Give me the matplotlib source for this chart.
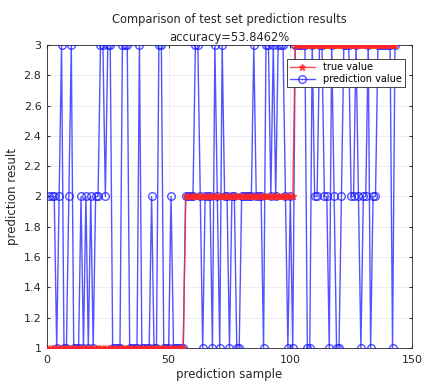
import numpy as np
import matplotlib
matplotlib.use("Agg")
import matplotlib.pyplot as plt

# true labels: class 1 for samples 1-56, class 2 for 57-101, class 3 for 102-143
true_counts = [56, 45, 42]
true_classes = [1, 2, 3]

pred_class1 = [2, 2, 2, 1, 2, 3, 1, 1, 2, 3, 1, 1, 1, 2, 1, 2, 1, 2, 1, 2,
               2, 3, 3, 2, 3, 3, 1, 1, 1, 1, 3, 3, 3, 1, 1, 1, 1, 3, 1, 1,
               1, 1, 2, 1, 1, 3, 3, 1, 1, 1, 2, 1, 1, 1, 1, 1]
pred_class2 = [2, 2, 2, 2, 3, 3, 2, 1, 2, 2, 2, 1, 3, 2, 1, 3, 2, 2, 1, 2,
               2, 1, 1, 2, 2, 2, 2, 2, 3, 2, 2, 2, 1, 3, 3, 2, 3, 2, 3, 3,
               3, 2, 1, 2, 1]
pred_class3 = [3, 3, 3, 3, 3, 1, 1, 3, 2, 2, 3, 3, 2, 2, 1, 3, 2, 1, 1, 2,
               3, 3, 3, 2, 2, 3, 2, 1, 2, 2, 3, 1, 2, 2, 3, 3, 3, 3, 3, 3,
               1, 3]

true_vals = np.concatenate([[c] * n for c, n in zip(true_classes, true_counts)])
pred_vals = np.array(pred_class1 + pred_class2 + pred_class3)
x = np.arange(1, len(true_vals) + 1)
acc = np.mean(true_vals == pred_vals) * 100

fig = plt.figure(figsize=(4.23, 3.83), dpi=100)
ax = fig.add_axes([0.111, 0.0914, 0.863, 0.7911])

hp, = ax.plot(x, pred_vals, '-o', color=(0.1, 0.1, 1.0), alpha=0.75, lw=1.0,
              markersize=5.5, markerfacecolor='none', markeredgewidth=1.0,
              label='prediction value', zorder=3)
ht, = ax.plot(x, true_vals, '-*', color=(1.0, 0.15, 0.15), alpha=0.8, lw=1.0,
              markersize=4.5, label='true value', zorder=4)

ax.set_xlim(0, 150)
ax.set_ylim(1, 3)
ax.set_xticks([0, 50, 100, 150])
yt = np.round(np.arange(1, 3.01, 0.2), 1)
ax.set_yticks(yt)
ax.set_yticklabels([f"{v:g}" for v in yt])
ax.grid(True, color='#ebebeb', lw=0.6)
ax.set_axisbelow(True)
ax.tick_params(labelsize=8, direction='in', length=2.5, color='#333333',
               labelcolor='#262626', top=True, right=True)
ax.tick_params(axis='x', pad=5)
ax.tick_params(axis='y', pad=4)
for s in ax.spines.values():
    s.set_color('#262626')
    s.set_linewidth(0.6)

ax.set_title(f"Comparison of test set prediction results\naccuracy={acc:.4f}%",
             fontsize=8.3, color='#262626', pad=3, linespacing=1.45)
ax.set_xlabel('prediction sample', fontsize=8.5, color='#262626', labelpad=2)
ax.set_ylabel('prediction result', fontsize=8.5, color='#262626', labelpad=3)

leg = ax.legend(handles=[ht, hp], loc='upper right', fontsize=7,
                bbox_to_anchor=(0.985, 0.96), frameon=True, fancybox=False,
                edgecolor='#262626', framealpha=1, borderpad=0.3,
                handlelength=2.6, labelspacing=0.2, borderaxespad=0.2)
leg.get_frame().set_linewidth(0.6)

fig.savefig('out.png', dpi=100)
